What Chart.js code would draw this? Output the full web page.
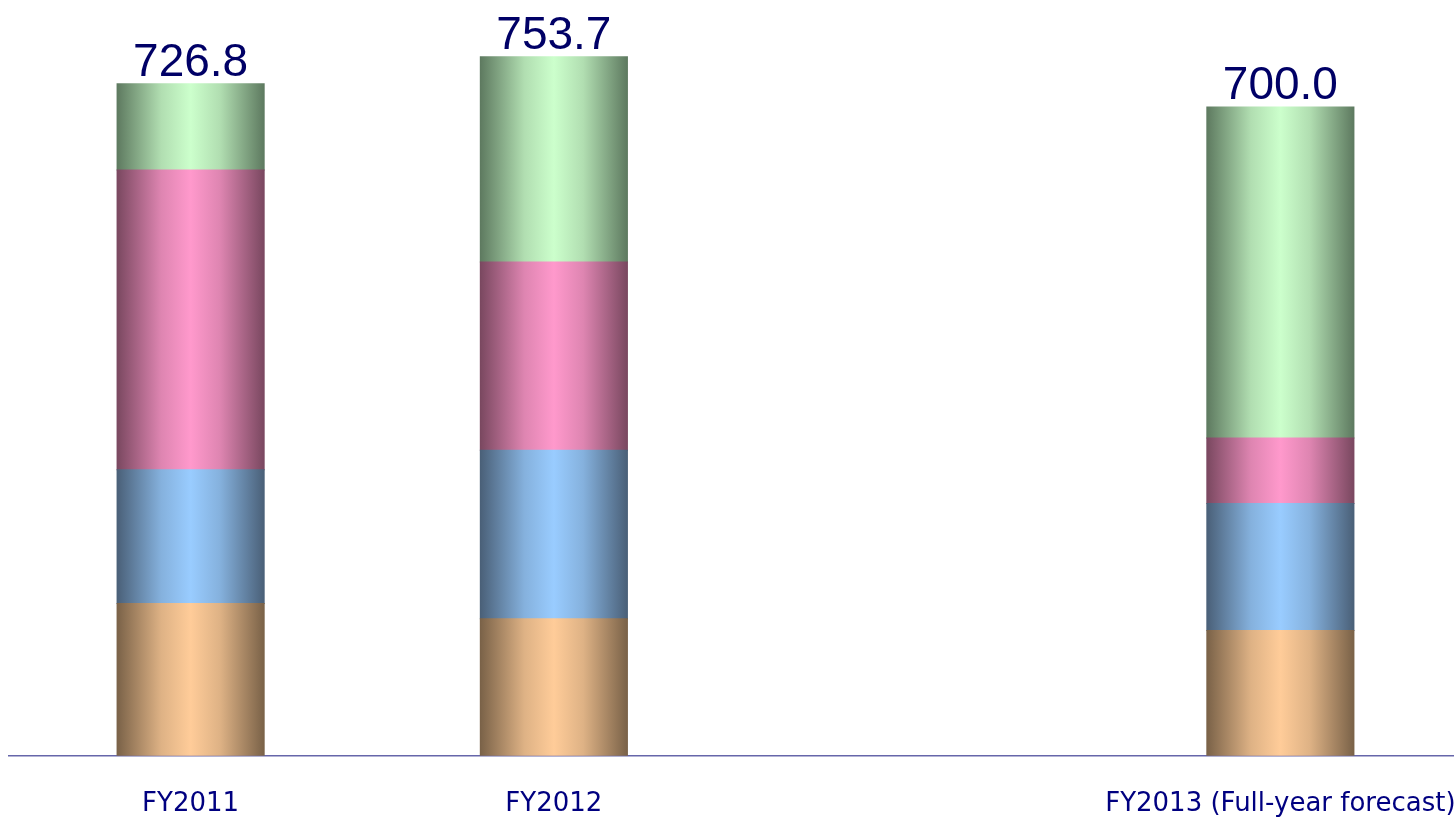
<!DOCTYPE html>
<html>
<head>
<meta charset="utf-8">
<script src="https://cdn.jsdelivr.net/npm/chart.js@4/dist/chart.umd.min.js"></script>
<style>
  html, body { margin:0; padding:0; background:#fff; overflow:hidden; }
  #wrap { width:1470px; height:819px; position:relative; }
</style>
</head>
<body>
<div id="wrap"><canvas id="c" width="1470" height="819"></canvas></div>
<script>
// ---- data ----
const categories = ['FY2011', 'FY2012', '', 'FY2013 (Full-year forecast)'];
const seriesOrange = [164.1, 147.9, null, 135.0];
const seriesBlue   = [144.4, 181.7, null, 137.1];
const seriesPink   = [323.2, 203.0, null, 70.5];
const seriesGreen  = [92.9, 221.1, null, 357.1];
const totals       = ['726.8', '753.7', null, '700.0'];

// colour pairs: [edge (dark), centre (light)]
const palette = {
  orange: ['#7a6248', '#ffcc99'],
  blue:   ['#4a6078', '#99ccff'],
  pink:   ['#7a4860', '#ff99cc'],
  green:  ['#5e7a60', '#ccffcc']
};

const BAR_PCT = 0.405;

function mix(a, b, t) {
  const pa = [1,3,5].map(i => parseInt(a.substr(i,2),16));
  const pb = [1,3,5].map(i => parseInt(b.substr(i,2),16));
  const r = pa.map((v,i) => Math.round(v + (pb[i]-v)*t));
  return 'rgb(' + r.join(',') + ')';
}
function gradFill(pair) {
  return function(ctx) {
    const chart = ctx.chart;
    const area = chart.chartArea;
    if (!area) return pair[1];
    const xs = chart.scales.x;
    const cx = xs.getPixelForValue(ctx.dataIndex);
    const half = (xs.width / categories.length) * BAR_PCT / 2;
    const g = chart.ctx.createLinearGradient(cx - half, 0, cx + half, 0);
    g.addColorStop(0, pair[0]);
    g.addColorStop(0.3, mix(pair[0], pair[1], 0.75));
    g.addColorStop(0.5, pair[1]);
    g.addColorStop(0.7, mix(pair[0], pair[1], 0.75));
    g.addColorStop(1, pair[0]);
    return g;
  };
}

const totalsPlugin = {
  id: 'totals',
  afterDatasetsDraw(chart) {
    const ctx = chart.ctx;
    const meta = chart.getDatasetMeta(chart.data.datasets.length - 1);
    ctx.save();
    ctx.font = '46px "Liberation Sans", Arial, sans-serif';
    ctx.fillStyle = '#000066';
    ctx.textAlign = 'center';
    ctx.textBaseline = 'alphabetic';
    meta.data.forEach((el, i) => {
      if (totals[i] == null) return;
      ctx.fillText(totals[i], el.x, el.y - 8);
    });
    ctx.restore();
  }
};

new Chart(document.getElementById('c'), {
  type: 'bar',
  data: {
    labels: categories,
    datasets: [
      { data: seriesOrange, backgroundColor: gradFill(palette.orange) },
      { data: seriesBlue,   backgroundColor: gradFill(palette.blue) },
      { data: seriesPink,   backgroundColor: gradFill(palette.pink) },
      { data: seriesGreen,  backgroundColor: gradFill(palette.green) }
    ]
  },
  options: {
    responsive: false,
    animation: false,
    devicePixelRatio: 1,
    layout: { padding: { left: 9, right: 8, top: 0, bottom: -2 } },
    datasets: { bar: { categoryPercentage: 1, barPercentage: BAR_PCT, borderWidth: 0, inflateAmount: 0.5 } },
    plugins: { legend: { display: false }, tooltip: { enabled: false } },
    scales: {
      x: {
        stacked: true,
        grid: { display: false, drawTicks: true, tickLength: 32 },
        border: { display: true, color: '#6666aa', width: 1.5 },
        ticks: {
          color: '#000080',
          font: { family: '"DejaVu Sans", Verdana, sans-serif', size: 26 },
          padding: 1,
          maxRotation: 0,
          autoSkip: false
        }
      },
      y: {
        stacked: true,
        display: false,
        min: 0,
        max: 815
      }
    }
  },
  plugins: [totalsPlugin]
});
</script>
</body>
</html>
